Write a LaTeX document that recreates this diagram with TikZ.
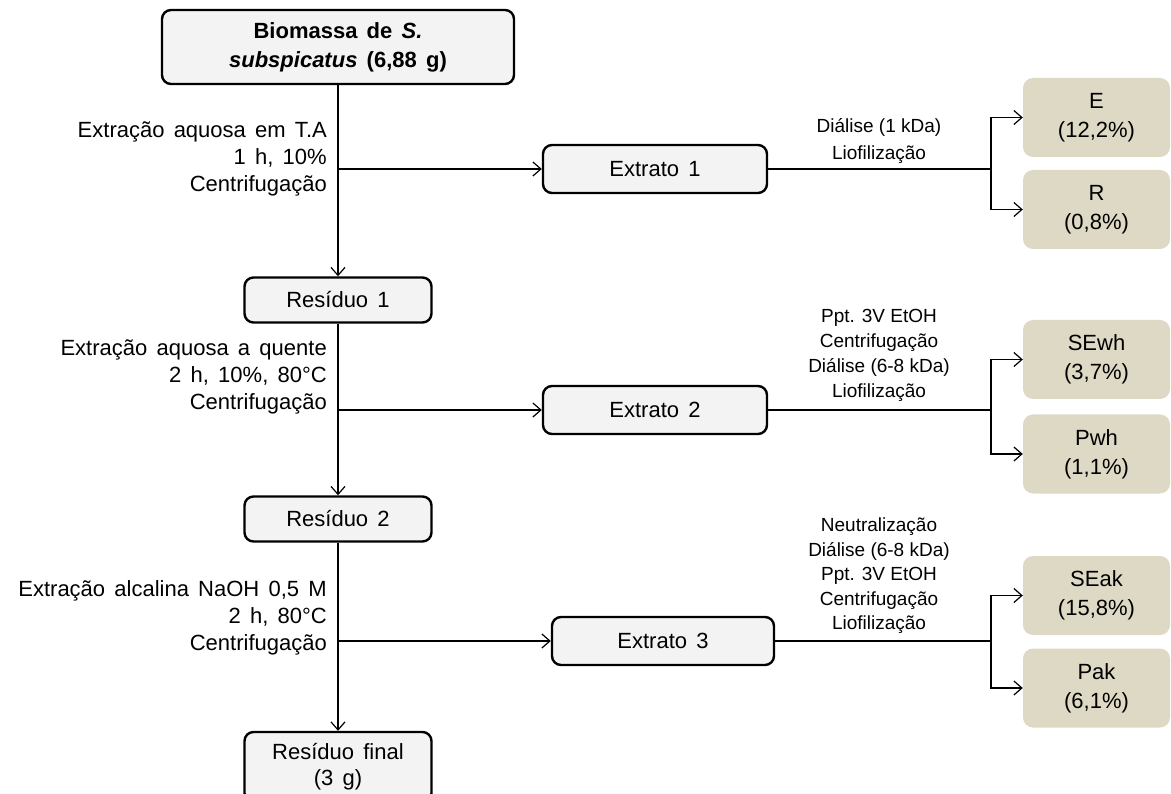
\documentclass[tikz,border=0pt]{standalone}
\usepackage{fontspec}
\setmainfont{Liberation Sans}
\usetikzlibrary{arrows.meta}
\definecolor{boxgray}{HTML}{F3F3F3}
\definecolor{prodtan}{HTML}{DDD9C5}
\newcommand\widesp{\spaceskip=0.42em plus 0.1em\relax}
\begin{document}
\begin{tikzpicture}[x=1pt,y=-1pt,
  every node/.style={font=\fontsize{22}{26}\selectfont\widesp},
  mainbox/.style={draw=black, line width=2.4pt, rounded corners=9pt, fill=boxgray, align=center, inner sep=0pt},
  prodbox/.style={fill=prodtan, rounded corners=10pt, align=center, inner sep=0pt, minimum width=147pt, minimum height=79pt, font=\fontsize{22}{29}\selectfont\widesp},
  link/.style={line width=1.2pt},
  conn/.style={line width=1.2pt, -{Straight Barb[length=8pt,width=14pt,line width=1.2pt]}},
  lbl/.style={align=right, inner sep=0pt, anchor=east, font=\fontsize{22}{27}\selectfont\widesp},
  rlbl/.style={align=center, inner sep=0pt},
]
\useasboundingbox (0,0) rectangle (1171,794);
\clip (0,0) rectangle (1171,794);

% main column
\node[mainbox, minimum width=352pt, minimum height=74pt, font=\bfseries\fontsize{22}{29}\selectfont\widesp] (top) at (338,47)
  {Biomassa de \textit{S.}\\\textit{subspicatus} (6,88 g)};
\node[mainbox, minimum width=187pt, minimum height=45pt] (res1) at (338,300) {Resíduo 1};
\node[mainbox, minimum width=187pt, minimum height=45pt] (res2) at (338,519) {Resíduo 2};
\node[mainbox, minimum width=187pt, minimum height=70pt] (resf) at (338,767) {Resíduo final\\(3 g)};

% extracts
\node[mainbox, minimum width=224pt, minimum height=48pt] (ext1) at (655,169) {Extrato 1};
\node[mainbox, minimum width=224pt, minimum height=48pt] (ext2) at (655,410) {Extrato 2};
\node[mainbox, minimum width=222pt, minimum height=48pt] (ext3) at (663,641) {Extrato 3};

% products
\node[prodbox] (pE) at (1096.5,117.5) {E\\(12,2\%)};
\node[prodbox] (pR) at (1096.5,209.5) {R\\(0,8\%)};
\node[prodbox] (pSEwh) at (1096.5,359.5) {SEwh\\(3,7\%)};
\node[prodbox] (pPwh) at (1096.5,454) {Pwh\\(1,1\%)};
\node[prodbox] (pSEak) at (1096.5,595.5) {SEak\\(15,8\%)};
\node[prodbox] (pPak) at (1096.5,688) {Pak\\(6,1\%)};

% left labels
\node[lbl] (l1) at (327,159) {Extração aquosa em T.A\\1 h, 10\%\\Centrifugação};
\node[lbl] (l2) at (327,377) {Extração aquosa a quente\\2 h, 10\%, 80°C\\Centrifugação};
\node[lbl] (l3) at (327,618) {Extração alcalina NaOH 0,5 M\\2 h, 80°C\\Centrifugação};

% right labels
\node[rlbl, font=\fontsize{19}{27}\selectfont] (r1) at (879,141) {Diálise (1 kDa)\\Liofilização};
\node[rlbl, font=\fontsize{19}{25}\selectfont] (r2) at (879,355) {Ppt. 3V EtOH\\Centrifugação\\Diálise (6-8 kDa)\\Liofilização};
\node[rlbl, font=\fontsize{19}{24.5}\selectfont] (r3) at (879,576) {Neutralização\\Diálise (6-8 kDa)\\Ppt. 3V EtOH\\Centrifugação\\Liofilização};

% branch points
\coordinate (b1) at (338,169);
\coordinate (b2) at (338,410);
\coordinate (b3) at (338,641);
\coordinate (s1) at (991,169);
\coordinate (s2) at (991,410);
\coordinate (s3) at (991,641);

% main flow
\draw[conn] (top.south) -- (res1.north);
\draw[conn] (res1.south) -- (res2.north);
\draw[conn] (res2.south) -- (resf.north);
\draw[conn] (b1) -- (ext1.west);
\draw[conn] (b2) -- (ext2.west);
\draw[conn] (b3) -- (ext3.west);

% splits
\draw[link] (ext1.east) -- (s1);
\draw[conn] (s1) |- (pE.west);
\draw[conn] (s1) |- (pR.west);
\draw[link] (ext2.east) -- (s2);
\draw[conn] (s2) |- (pSEwh.west);
\draw[conn] (s2) |- (pPwh.west);
\draw[link] (ext3.east) -- (s3);
\draw[conn] (s3) |- (pSEak.west);
\draw[conn] (s3) |- (pPak.west);
\end{tikzpicture}
\end{document}
